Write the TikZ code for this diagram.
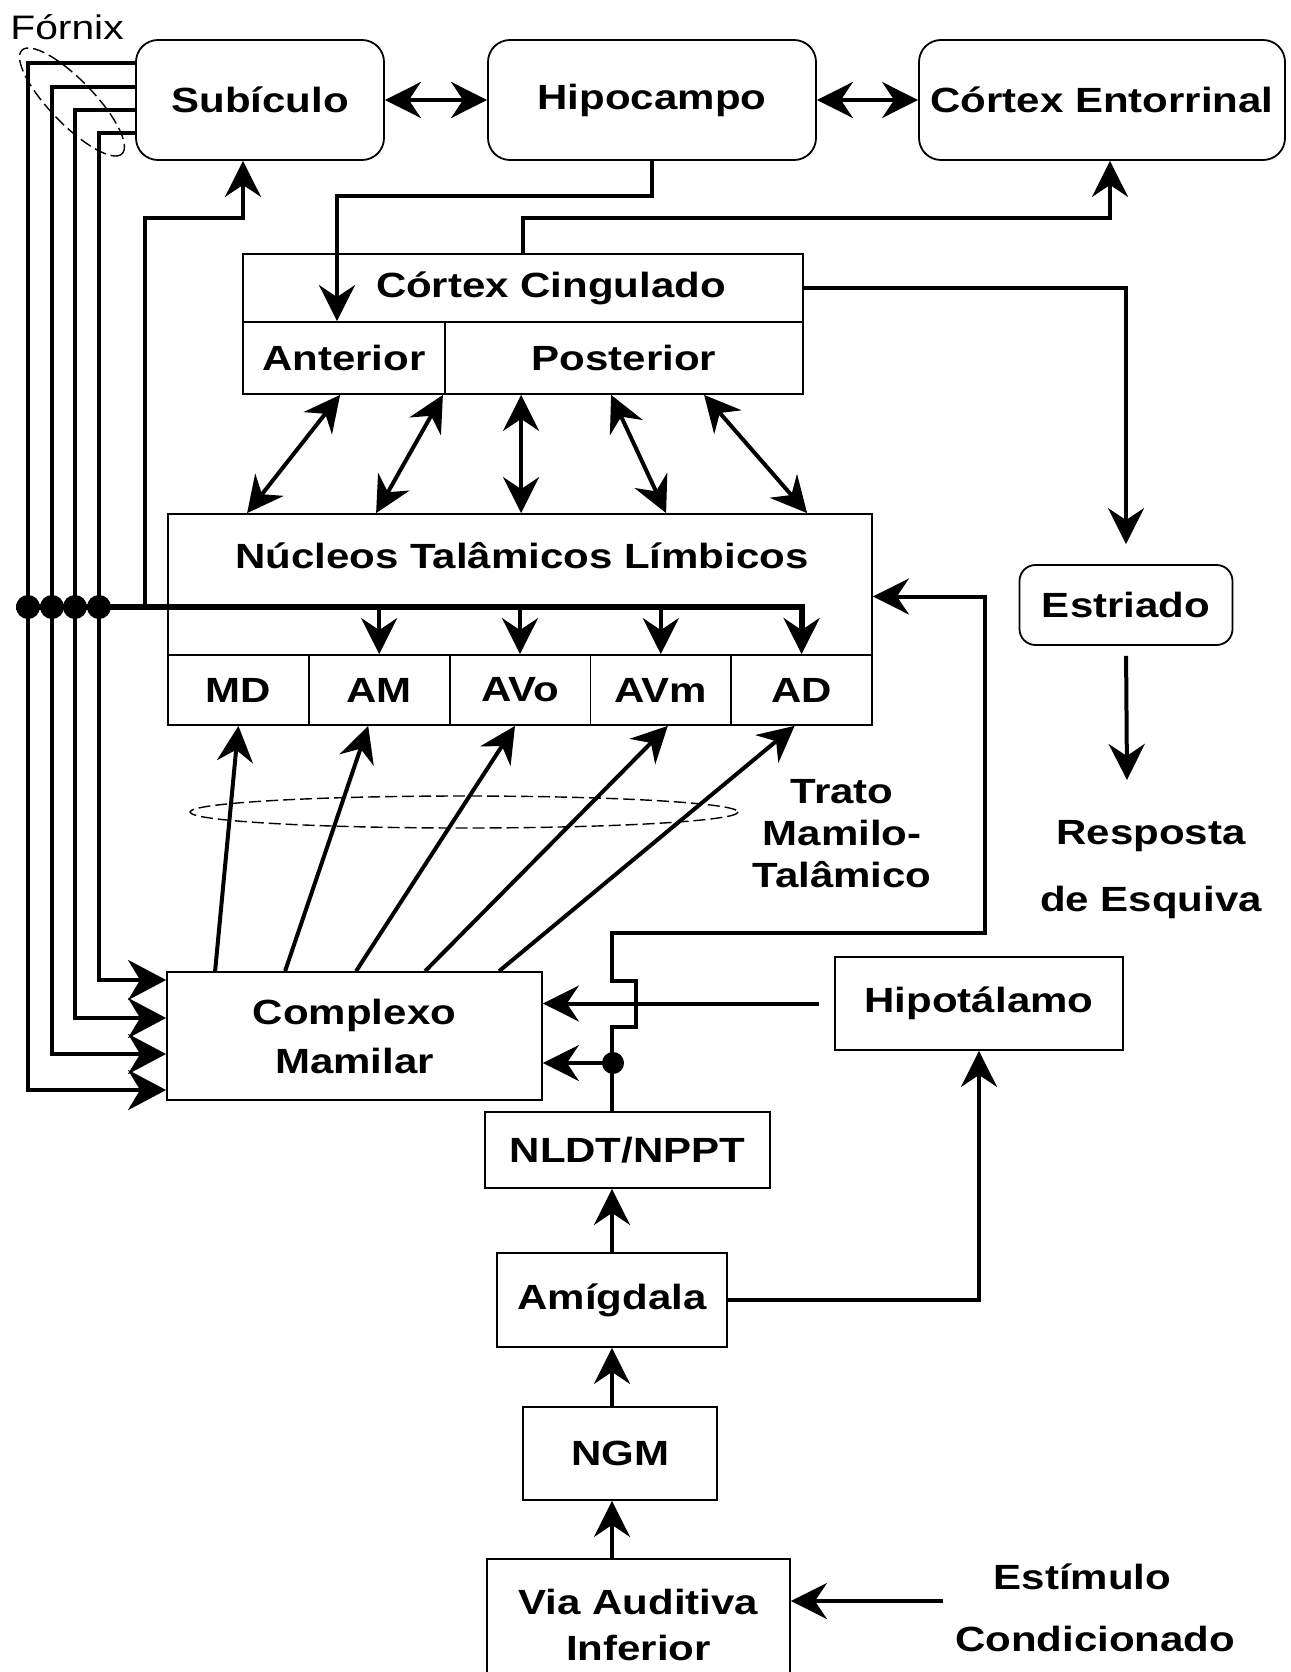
\documentclass[tikz,border=0pt]{standalone}
\usepackage{fontspec}
\setmainfont{Liberation Sans}[FakeStretch=1.2]
\usepackage{tikz}
\usetikzlibrary{arrows.meta,positioning,calc}

\newcommand{\boxfont}{\fontsize{35}{42}\selectfont\bfseries}

\begin{document}
\begin{tikzpicture}[x=1pt,y=-1pt,
    box/.style={draw, line width=1.8pt, inner sep=0pt, align=center, font=\boxfont},
    rbox/.style={box, rounded corners=22pt},
    lbl/.style={inner sep=0pt, align=center, font=\boxfont},
    conn/.style={line width=4pt, -{Stealth[length=36pt,width=36pt,inset=12pt]}},
    dconn/.style={line width=4pt, {Stealth[length=36pt,width=36pt,inset=12pt]}-{Stealth[length=36pt,width=36pt,inset=12pt]}},
    fxa/.style={line width=4.5pt, -{Stealth[length=38pt,width=40pt,inset=12pt]}},
    tract/.style={line width=1.4pt, dash pattern=on 12pt off 5pt}]
    \useasboundingbox (0,0) rectangle (1290,1672);

    \node[rbox, minimum width=248pt, minimum height=120pt] (sub) at (260,100) {Subículo};
    \node[rbox, minimum width=328pt, minimum height=120pt] (hipo) at (652,100) {Hipocampo};
    \node[rbox, minimum width=366pt, minimum height=120pt] (ent) at (1102,100) {Córtex Entorrinal};
    \node[inner sep=0pt, font=\fontsize{34}{40}\selectfont] (fornix) at (67,27) {Fórnix};

    \node[box, minimum width=560pt, minimum height=68pt] (cing) at (523,288) {};
    \node[lbl] (cingtxt) at (551,288) {Córtex Cingulado};
    \node[box, minimum width=202pt, minimum height=72pt] (ant) at (344,358) {Anterior};
    \node[box, minimum width=358pt, minimum height=72pt] (post) at (624,358) {Posterior};

    \node[rbox, rounded corners=16pt, minimum width=213pt, minimum height=80pt] (est) at (1126,605) {Estriado};
    \node[lbl] (resp) at (1151,870) {Resposta\\[25pt]de Esquiva};
    \coordinate (respin) at (1127,780);

    \node[box, minimum width=704pt, minimum height=141pt] (nuc) at (520,584.5) {};
    \node[lbl] (nuctxt) at (522,556) {Núcleos Talâmicos Límbicos};
    \node[box, minimum width=140.8pt, minimum height=70pt] (md) at (238.4,690) {MD};
    \node[box, minimum width=140.8pt, minimum height=70pt] (am) at (379.2,690) {AM};
    \node[box, minimum width=140.8pt, minimum height=70pt] (avo) at (520,690) {AVo};
    \node[box, minimum width=140.8pt, minimum height=70pt] (avm) at (660.8,690) {AVm};
    \node[box, minimum width=140.8pt, minimum height=70pt] (ad) at (801.6,690) {AD};

    \node[lbl] (trato) at (842,834) {Trato\\Mamilo-\\Talâmico};
    \draw[tract] (464,812) ellipse (274 and 16);
    \draw[tract, rotate around={-46:(72,102)}] (72,102) ellipse (72 and 22);

    \node[box, minimum width=375pt, minimum height=128pt] (cm) at (354.5,1036) {Complexo\\[7pt]Mamilar};
    \node[box, minimum width=288pt, minimum height=93pt] (hyp) at (979,1003.5) {Hipotálamo};
    \node[box, minimum width=285pt, minimum height=76pt] (nldt) at (627.5,1150) {NLDT/NPPT};
    \node[box, minimum width=230pt, minimum height=94pt] (amg) at (612,1300) {Amígdala};
    \node[box, minimum width=194pt, minimum height=93pt] (ngm) at (620,1453.5) {NGM};
    \node[box, minimum width=303pt, minimum height=131pt] (via) at (638.5,1624.5) {Via Auditiva\\[4pt]Inferior};
    \node[lbl] (stim) at (1095,1608) {\hspace*{-25pt}Estímulo\\[20pt]Condicionado};
    \coordinate (stimout) at (943,1601);

    \coordinate (d1) at (28,607);
    \coordinate (d2) at (52,607);
    \coordinate (d3) at (75,607);
    \coordinate (d4) at (99,607);
    \coordinate (sj) at (145,607);
    \coordinate (nj) at (613,1063);

    \draw[dconn] (sub.east) -- (hipo.west);
    \draw[dconn] (hipo.east) -- (ent.west);
    \draw[conn] (hipo.south) -- ++(0,35) -| ([xshift=-7pt]ant.north);
    \draw[conn] (cing.north) -- ++(0,-35) -| ([xshift=8pt]ent.south);
    \draw[conn, shorten >=20pt] (cing.east) -| (est.north);
    \draw[conn, shorten <=10pt] (est.south) -- (respin);

    \draw[dconn] ([xshift=98pt]ant.south west) -- ([xshift=80pt]nuc.north west);
    \draw[dconn] ([xshift=-3pt]ant.south east) -- ([xshift=209pt]nuc.north west);
    \draw[dconn] ([xshift=77pt]post.south west) -- ([xshift=354pt]nuc.north west);
    \draw[dconn] ([xshift=167pt]post.south west) -- ([xshift=499pt]nuc.north west);
    \draw[dconn] ([xshift=260pt]post.south west) -- ([xshift=640pt]nuc.north west);

    \draw[fxa] ([yshift=37pt]sub.west) -| (d1) |- ([yshift=-54pt]cm.west);
    \draw[fxa] ([yshift=13pt]sub.west) -| (d2) |- ([yshift=-18pt]cm.west);
    \draw[fxa] ([yshift=-10pt]sub.west) -| (d3) |- ([yshift=18pt]cm.west);
    \draw[fxa] ([yshift=-33pt]sub.west) -| (d4) |- ([yshift=56pt]cm.west);
    \fill (d1) circle (12pt);
    \fill (d2) circle (12pt);
    \fill (d3) circle (12pt);
    \fill (d4) circle (12pt);

    \draw[conn, line width=6pt] ([xshift=-12pt]d1) -| (ad.north);
    \draw[conn] (am.north |- d1) -- (am.north);
    \draw[conn] (avo.north |- d1) -- (avo.north);
    \draw[conn] (avm.north |- d1) -- (avm.north);
    \draw[conn] (sj) -- (145,218) -| ([xshift=-17pt]sub.south);

    \draw[conn] ([xshift=49pt]cm.north west) -- (md.south);
    \draw[conn] ([xshift=119pt]cm.north west) -- ([xshift=-11pt]am.south);
    \draw[conn] ([xshift=190pt]cm.north west) -- ([xshift=-5pt]avo.south);
    \draw[conn] ([xshift=259pt]cm.north west) -- ([xshift=7pt]avm.south);
    \draw[conn] ([xshift=333pt]cm.north west) -- ([xshift=-7pt]ad.south);

    \draw[conn] (nldt.north -| amg.north) -- ++(0,-84) -- ++(24,0) -- ++(0,-46) -- ++(-24,0) |- (985,933) |- ([yshift=-12pt]nuc.east);
    \fill (nj) circle (11pt);
    \draw[conn] (nj) -- (nj -| cm.east);
    \draw[conn, shorten <=15pt] (hyp.west) -- (hyp.west -| cm.east);
    \draw[conn] (amg.east) -| (hyp.south);
    \draw[conn] (amg.north) -- (amg.north |- nldt.south);
    \draw[conn] (ngm.north -| amg.north) -- (amg.south);
    \draw[conn] (via.north -| amg.north) -- (ngm.south -| amg.north);
    \draw[conn] (stimout) -- (stimout -| via.east);
\end{tikzpicture}
\end{document}
